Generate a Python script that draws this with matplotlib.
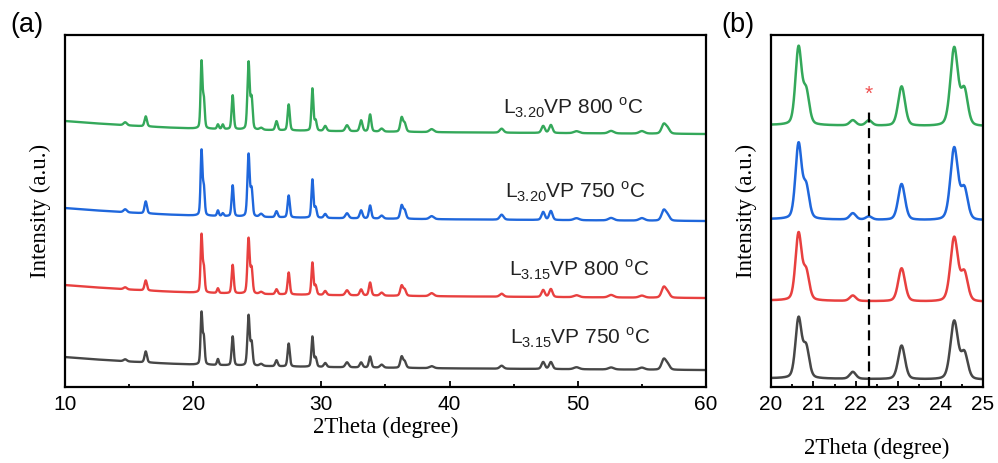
import numpy as np
import matplotlib.pyplot as plt

plt.rcParams['font.family'] = 'Liberation Sans'
plt.rcParams['mathtext.fontset'] = 'custom'
plt.rcParams['mathtext.rm'] = 'Liberation Sans'

# reflections (2theta, deg) and their widths
peak_pos = [14.7, 16.3, 20.65, 20.83, 21.93, 22.31, 23.08, 24.32, 24.56, 25.3,
            26.5, 27.45, 29.3, 29.55, 30.3, 32.0, 33.1, 33.8, 34.7, 36.26,
            36.5, 38.6, 44.06, 47.3, 47.9, 49.9, 52.6, 55.0, 56.7, 57.0]
peak_fwhm = [0.3, 0.22, 0.17, 0.17, 0.17, 0.17, 0.19, 0.21, 0.19, 0.3,
             0.22, 0.2, 0.18, 0.2, 0.25, 0.3, 0.25, 0.22, 0.3, 0.25,
             0.25, 0.4, 0.35, 0.3, 0.3, 0.5, 0.5, 0.5, 0.4, 0.4]

# peak heights (a.u.)
h_315_750 = [2, 11, 51, 26, 6, 0, 29, 50, 22, 2,
             6, 23, 30, 9, 4, 5, 5, 11, 3, 11,
             6, 2, 3, 7, 7, 2, 2, 2, 10, 5]
h_315_800 = [2, 10, 57, 24, 4.7, 0, 28.5, 55, 24, 2,
             5, 22, 32, 9, 4, 5, 6, 13, 3, 10,
             6, 3, 3, 7, 8, 2, 2.5, 2, 10, 5]
h_320_750 = [3, 12, 64, 27, 5.5, 2.8, 31, 62, 26, 3,
             6, 22, 38, 10, 4, 5, 8, 13, 3, 13,
             8, 3, 5, 8, 9, 2, 2.5, 2.5, 10, 5]
h_320_800 = [3, 10, 66, 28, 4.5, 4.5, 34, 67, 30, 2,
             9, 26, 42, 10, 5, 6, 11, 17, 3, 14,
             8, 3, 4, 7, 8, 2, 2.5, 2.5, 9, 5]

# sloping background
bg_x = [10, 12, 15, 18, 20, 25, 30, 35, 40, 50, 60]
bg_level = [13, 11, 8.5, 6.5, 5.5, 4, 3, 2.3, 1.7, 0.8, 0]

labels = [r'L$_{\mathrm{3.15}}$VP 750 $^{\mathrm{o}}$C',
          r'L$_{\mathrm{3.15}}$VP 800 $^{\mathrm{o}}$C',
          r'L$_{\mathrm{3.20}}$VP 750 $^{\mathrm{o}}$C',
          r'L$_{\mathrm{3.20}}$VP 800 $^{\mathrm{o}}$C']
colors = ['#474747', '#e8403f', '#1f67dc', '#34a85a']
heights = [h_315_750, h_315_800, h_320_750, h_320_800]

impurity_pos = 22.31

# stacking / label placement
offsets_a = [17, 89, 166, 253]
offsets_b = [2, 69, 139, 220]
label_x = [44.75, 44.6, 44.35, 44.2]
label_y = [49, 117, 195, 279]


def pattern(x, h):
    y = np.interp(x, bg_x, bg_level)
    for p, w, a in zip(peak_pos, peak_fwhm, h):
        d = (x - p) / w
        g = np.exp(-4 * np.log(2) * d ** 2)
        l = 1 / (1 + 4 * d ** 2)
        y = y + a * (0.7 * g + 0.3 * l)
    return y


x = np.linspace(10, 60, 8001)

fig = plt.figure(figsize=(9.98, 4.63), dpi=100)
ax1 = fig.add_axes([0.0651, 0.164, 0.6423, 0.7604])
ax2 = fig.add_axes([0.7725, 0.164, 0.2125, 0.7604])

for h, c, oa, ob, lab, lx, ly in zip(heights, colors, offsets_a, offsets_b,
                                     labels, label_x, label_y):
    y = pattern(x, h)
    ax1.plot(x, y + oa, color=c, lw=1.7)
    ax2.plot(x, y + ob, color=c, lw=1.8)
    ax1.text(lx, ly, lab, fontsize=15, ha='left', va='center', color='#222222')

ax2.plot([impurity_pos, impurity_pos], [0, 241], color='black', lw=1.6,
         ls=(0, (4.5, 2.5)))
ax2.text(impurity_pos, 252, '*', color='#f05050', fontsize=15, ha='center',
         va='center')

ax1.set_xlim(10, 60)
ax1.set_ylim(0, 352)
ax2.set_xlim(20, 25)
ax2.set_ylim(0, 303)

ax1.set_xticks([10, 20, 30, 40, 50, 60])
ax1.set_xticks([15, 25, 35, 45, 55], minor=True)
ax2.set_xticks([20, 21, 22, 23, 24, 25])
ax2.set_xticks(np.arange(20.5, 25, 1.0), minor=True)

for ax in (ax1, ax2):
    ax.set_yticks([])
    ax.tick_params(axis='x', which='major', direction='in', length=4.5,
                   width=1.3, labelsize=15, pad=6)
    ax.tick_params(axis='x', which='minor', direction='in', length=2.5,
                   width=1.3)
    for s in ax.spines.values():
        s.set_linewidth(1.6)
    ax.set_ylabel('Intensity (a.u.)', family='Liberation Serif', fontsize=16.5,
                  labelpad=10)

ax1.set_xlabel('2Theta (degree)', family='Liberation Serif', fontsize=16.5,
               labelpad=2)
ax2.set_xlabel('2Theta (degree)', family='Liberation Serif', fontsize=16.5,
               labelpad=17)

fig.text(0.01, 0.945, '(a)', fontsize=19.5, va='center')
fig.text(0.723, 0.945, '(b)', fontsize=19.5, va='center')

fig.savefig('out.png', dpi=100)
